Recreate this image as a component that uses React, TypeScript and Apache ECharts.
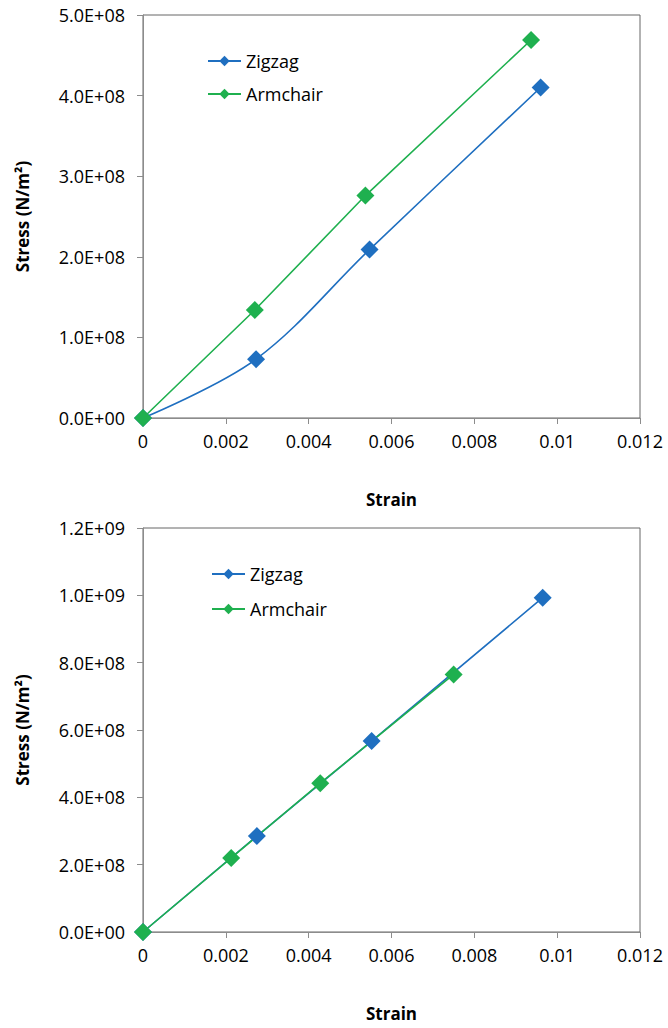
import React, { useEffect, useRef } from "react";
import * as echarts from "echarts";

// ---- data ----
const strainMin = 0;
const strainMax = 0.012;
const strainStep = 0.002;

const topStressMax = 5e8;
const topStressStep = 1e8;
const bottomStressMax = 1.2e9;
const bottomStressStep = 2e8;

const seriesNames = ["Zigzag", "Armchair"];

const zigzagStrainTop = [0, 0.00273, 0.00547, 0.0096];
const zigzagStressTop = [0, 7.3e7, 2.09e8, 4.1e8];
const armchairStrainTop = [0, 0.0027, 0.00537, 0.00937];
const armchairStressTop = [0, 1.34e8, 2.76e8, 4.69e8];

const zigzagStrainBottom = [0, 0.00275, 0.00552, 0.00965];
const zigzagStressBottom = [0, 2.85e8, 5.67e8, 9.93e8];
const armchairStrainBottom = [0, 0.00213, 0.00428, 0.0075];
const armchairStressBottom = [0, 2.2e8, 4.42e8, 7.65e8];

const xTitle = "Strain";
const yTitle = "Stress (N/m²)";

// ---- styling ----
const FONT = '"Open Sans", sans-serif';
const BLUE = "#1f6fc0";
const GREEN = "#1fb04f";
const AXIS = "#8c8c8c";

const pairs = (xs: number[], ys: number[]) => xs.map((x, i) => [x, ys[i]]);

const fmtExp = (v: number) => {
  if (v === 0) return "0.0E+00";
  const [m, e] = v.toExponential(1).split("e");
  const n = parseInt(e, 10);
  return m + "E" + (n < 0 ? "-" : "+") + String(Math.abs(n)).padStart(2, "0");
};
const fmtStrain = (v: number) => String(parseFloat(v.toFixed(4)));

export default function App() {
  const ref = useRef<HTMLDivElement>(null);

  useEffect(() => {
    if (!ref.current) return;
    const chart = echarts.init(ref.current, undefined, { renderer: "svg" });

    const grids = [
      { left: 143, top: 15, width: 497, height: 403 },
      { left: 143, top: 528, width: 497, height: 404 },
    ];

    const xAxisBase = (gridIndex: number) => ({
      type: "value",
      gridIndex,
      min: strainMin,
      max: strainMax,
      interval: strainStep,
      name: xTitle,
      nameLocation: "middle",
      nameGap: 73,
      nameTextStyle: { fontFamily: FONT, fontSize: 17, fontWeight: "bold", color: "#000" },
      axisLine: { show: true, lineStyle: { color: AXIS, width: 1 } },
      axisTick: { show: true, inside: false, length: 6, lineStyle: { color: AXIS } },
      axisLabel: { fontFamily: FONT, fontSize: 18, color: "#000", margin: 14, formatter: fmtStrain },
      splitLine: { show: false },
    });

    const yAxisBase = (gridIndex: number, max: number, step: number) => ({
      type: "value",
      gridIndex,
      min: 0,
      max,
      interval: step,
      name: yTitle,
      nameLocation: "middle",
      nameGap: 112,
      nameRotate: 90,
      nameTextStyle: { fontFamily: FONT, fontSize: 17, fontWeight: "bold", color: "#000" },
      axisLine: { show: true, lineStyle: { color: AXIS, width: 1 } },
      axisTick: { show: true, inside: false, length: 6, lineStyle: { color: AXIS } },
      axisLabel: { fontFamily: FONT, fontSize: 18, color: "#000", margin: 18, formatter: fmtExp },
      splitLine: { show: false },
    });

    const lineSeries = (
      name: string,
      idx: number,
      data: number[][],
      color: string,
      smooth: boolean | number
    ) => ({
      type: "line",
      name,
      xAxisIndex: idx,
      yAxisIndex: idx,
      data,
      smooth,
      symbol: "diamond",
      symbolSize: 18,
      showAllSymbol: true,
      itemStyle: { color },
      lineStyle: { color, width: 1.6 },
    });

    const legendBase = (left: number, top: number, gap: number) => ({
      orient: "vertical",
      left,
      top,
      itemWidth: 33,
      itemHeight: 13,
      itemGap: gap,
      data: seriesNames,
      textStyle: { fontFamily: FONT, fontSize: 18, color: "#000" },
    });

    chart.setOption({
      animation: false,
      backgroundColor: "#fff",
      grid: grids.map((g) => ({ ...g, show: true, borderColor: "#666", borderWidth: 1, backgroundColor: "transparent" })),
      xAxis: [xAxisBase(0), xAxisBase(1)],
      yAxis: [yAxisBase(0, topStressMax, topStressStep), yAxisBase(1, bottomStressMax, bottomStressStep)],
      legend: [legendBase(202, 47, 15), legendBase(206, 560, 17)],
      series: [
        lineSeries(seriesNames[0], 0, pairs(zigzagStrainTop, zigzagStressTop), BLUE, 0.35),
        lineSeries(seriesNames[1], 0, pairs(armchairStrainTop, armchairStressTop), GREEN, false),
        lineSeries(seriesNames[0], 1, pairs(zigzagStrainBottom, zigzagStressBottom), BLUE, false),
        lineSeries(seriesNames[1], 1, pairs(armchairStrainBottom, armchairStressBottom), GREEN, false),
      ],
    });

    return () => chart.dispose();
  }, []);

  return (
    <div
      ref={ref}
      style={{ position: "absolute", left: 0, top: 0, width: 668, height: 1028, background: "#fff" }}
    />
  );
}
